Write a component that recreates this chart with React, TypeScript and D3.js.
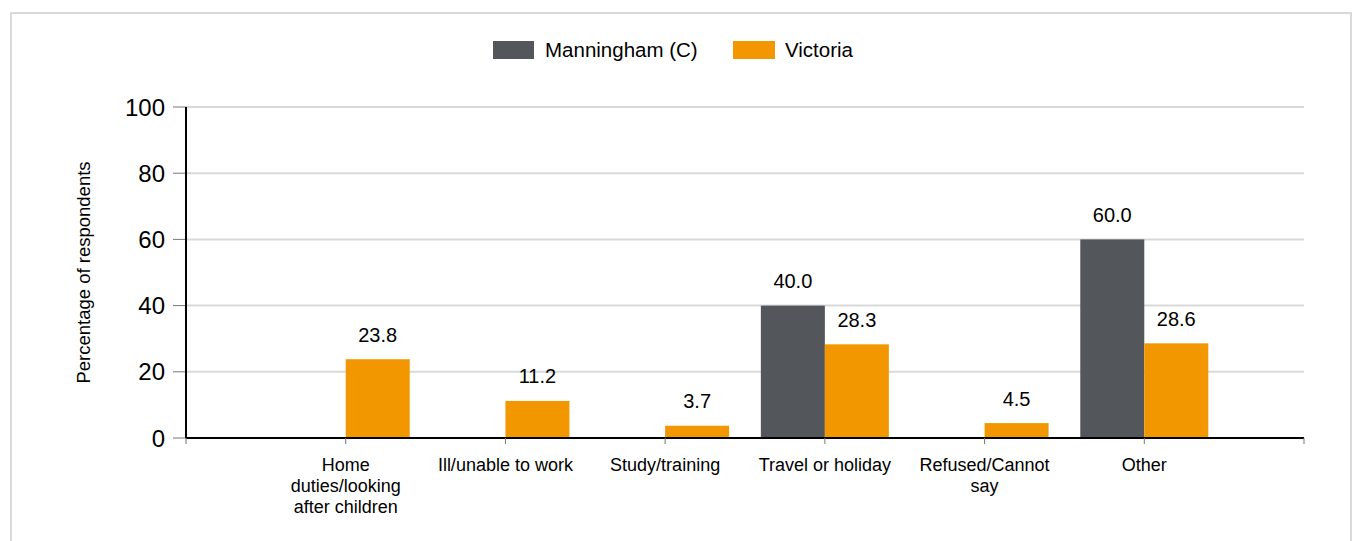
import React from "react";
import * as d3 from "d3";

const categories = [
  "Home duties/looking after children",
  "Ill/unable to work",
  "Study/training",
  "Travel or holiday",
  "Refused/Cannot say",
  "Other",
];
const categoryLines = [
  ["Home", "duties/looking", "after children"],
  ["Ill/unable to work"],
  ["Study/training"],
  ["Travel or holiday"],
  ["Refused/Cannot", "say"],
  ["Other"],
];
const manningham = [0, 0, 0, 40.0, 0, 60.0];
const victoria = [23.8, 11.2, 3.7, 28.3, 4.5, 28.6];
const seriesNames = ["Manningham (C)", "Victoria"];
const seriesColors = ["#53565a", "#f39700"];
const yTicks = [0, 20, 40, 60, 80, 100];

const W = 1352;
const H = 541;
const left = 186;
const right = 1304;
const top = 107;
const bottom = 438;
const font = "Liberation Sans, Arial, sans-serif";

export default function App() {
  const x = d3.scalePoint<string>().domain(categories).range([left, right]).padding(1);
  const y = d3.scaleLinear().domain([0, 100]).range([bottom, top]);
  const barW = 64;
  const series = [manningham, victoria];

  return (
    <div style={{ position: "absolute", left: 0, top: 0 }}>
      <svg width={W} height={H} style={{ display: "block", fontFamily: font }}>
        <rect x={0} y={0} width={W} height={H} fill="#fff" />
        <path d="M11,545 V13 H1351 V545" fill="none" stroke="#d9d9d9" strokeWidth={2} />
        {/* legend */}
        <g>
          <rect x={493} y={41} width={41} height={18} fill={seriesColors[0]} />
          <text x={545} y={57} fontSize={20.5} fill="#000">{seriesNames[0]}</text>
          <rect x={733} y={41} width={42} height={18} fill={seriesColors[1]} />
          <text x={785} y={57} fontSize={20.5} fill="#000">{seriesNames[1]}</text>
        </g>
        {/* gridlines */}
        {yTicks.filter((t) => t > 0).map((t) => (
          <line key={t} x1={left} x2={right} y1={y(t)} y2={y(t)} stroke="#d9d9d9" strokeWidth={2} />
        ))}
        {/* y ticks and labels */}
        {yTicks.map((t) => (
          <g key={t}>
            <line x1={173} x2={left} y1={y(t)} y2={y(t)} stroke="#777" strokeWidth={1} />
            <text x={165} y={y(t) + 8.5} fontSize={24} textAnchor="end" fill="#000">{t}</text>
          </g>
        ))}
        <text
          transform={`translate(90,${(top + bottom) / 2}) rotate(-90)`}
          fontSize={18.5}
          textAnchor="middle"
          fill="#000"
        >
          Percentage of respondents
        </text>
        {/* bars */}
        {categories.map((c, i) => {
          const cx = x(c) as number;
          return (
            <g key={c}>
              {series.map((s, k) => {
                const v = s[i];
                if (v <= 0) return null;
                const bx = cx - barW + k * barW;
                return (
                  <g key={k}>
                    <rect x={bx} y={y(v)} width={barW} height={bottom - y(v)} fill={seriesColors[k]} />
                    <text x={bx + barW / 2} y={y(v) - 17.5} fontSize={20} textAnchor="middle" fill="#000">
                      {v.toFixed(1)}
                    </text>
                  </g>
                );
              })}
            </g>
          );
        })}
        {/* axes */}
        <line x1={left} x2={left} y1={top} y2={bottom} stroke="#000" strokeWidth={2} />
        <line x1={left} x2={right} y1={bottom} y2={bottom} stroke="#000" strokeWidth={2} />
        {[left, ...categories.map((c) => x(c) as number), right].map((tx, i) => (
          <line key={i} x1={tx} x2={tx} y1={bottom} y2={bottom + 6} stroke="#777" strokeWidth={1} />
        ))}
        {categories.map((c, i) => (
          <text key={c} x={x(c) as number} textAnchor="middle" fontSize={18} fill="#000">
            {categoryLines[i].map((ln, j) => (
              <tspan key={j} x={x(c) as number} y={471 + j * 21}>{ln}</tspan>
            ))}
          </text>
        ))}
      </svg>
    </div>
  );
}
